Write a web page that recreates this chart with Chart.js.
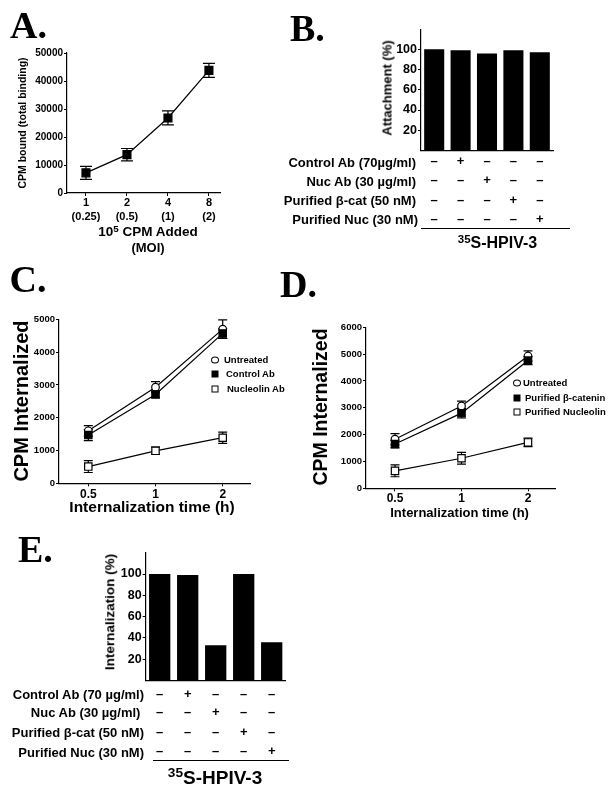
<!DOCTYPE html>
<html>
<head>
<meta charset="utf-8">
<script src="https://cdn.jsdelivr.net/npm/chart.js@4.4.1/dist/chart.umd.min.js"></script>
<style>
body{margin:0;background:#fff;}
#page{position:relative;width:611px;height:794px;overflow:hidden;font-family:"Liberation Sans",Arial,sans-serif;font-weight:bold;color:#000;}
canvas{position:absolute;left:0;top:0;}
.t{position:absolute;white-space:nowrap;line-height:1;transform:translate(-50%,-50%);}
.r{position:absolute;white-space:nowrap;line-height:1;transform:translate(-100%,-50%);}
.l{position:absolute;white-space:nowrap;line-height:1;transform:translate(0,-50%);}
.v{position:absolute;white-space:nowrap;line-height:1;transform:translate(-50%,-50%) rotate(-90deg);}
.letter{position:absolute;font-family:"Liberation Serif","Times New Roman",serif;font-size:38px;line-height:1;}
.rule{position:absolute;border-top:1.3px solid #000;height:0;}
.mk{position:absolute;box-sizing:border-box;transform:translate(-50%,-50%);}
.circ{width:8px;height:7px;border:1.3px solid #000;border-radius:50%;}
.fsq{width:7px;height:7px;background:#000;}
.osq{width:7px;height:7px;border:1.3px solid #000;}
sup{font-size:0.72em;vertical-align:0.45em;line-height:0;}
</style>
</head>
<body>
<div id="page">
  <canvas id="chartA" width="611" height="794"></canvas>
  <canvas id="chartB" width="611" height="794"></canvas>
  <canvas id="chartC" width="611" height="794"></canvas>
  <canvas id="chartD" width="611" height="794"></canvas>
  <canvas id="chartE" width="611" height="794"></canvas>

  <div class="letter" style="left:10px;top:6px;">A.</div>
  <div class="letter" style="left:290px;top:9px;">B.</div>
  <div class="letter" style="left:9.5px;top:260px;">C.</div>
  <div class="letter" style="left:280px;top:265px;">D.</div>
  <div class="letter" style="left:18px;top:530px;">E.</div>

  <!-- A -->
  <div class="v" style="left:21.7px;top:123px;font-size:10.5px;">CPM bound (total binding)</div>
  <div class="t" style="left:148px;top:232px;font-size:13.5px;">10<sup>5</sup> CPM Added</div>
  <div class="t" style="left:148px;top:247px;font-size:13px;">(MOI)</div>

  <!-- B -->
  <div class="v" style="left:386.5px;top:88px;font-size:13px;">Attachment (%)</div>
  <div class="r" style="left:416px;top:161.7px;font-size:13px;">Control Ab (70µg/ml)</div>
  <div class="r" style="left:416px;top:180.7px;font-size:13px;">Nuc Ab (30 µg/ml)</div>
  <div class="r" style="left:416px;top:200px;font-size:13px;">Purified β-cat (50 nM)</div>
  <div class="r" style="left:418px;top:219px;font-size:13px;">Purified Nuc (30 nM)</div>
  <div class="rule" style="left:421px;top:228px;width:149px;"></div>
  <div class="t" style="left:497.5px;top:243px;font-size:16px;"><sup>35</sup>S-HPIV-3</div>

  <!-- C -->
  <div class="v" style="left:20.7px;top:401px;font-size:20px;">CPM Internalized</div>
  <div class="t" style="left:152px;top:507px;font-size:15.5px;">Internalization time (h)</div>
  <div class="mk circ" style="left:215px;top:360px;"></div>
  <div class="l" style="left:224px;top:360px;font-size:9.5px;">Untreated</div>
  <div class="mk fsq" style="left:215px;top:374.3px;"></div>
  <div class="l" style="left:226px;top:374.3px;font-size:9.5px;">Control Ab</div>
  <div class="mk osq" style="left:215px;top:389px;"></div>
  <div class="l" style="left:227px;top:389px;font-size:9.5px;">Nucleolin Ab</div>

  <!-- D -->
  <div class="v" style="left:320.7px;top:406.7px;font-size:19.5px;">CPM Internalized</div>
  <div class="t" style="left:459.6px;top:512px;font-size:13px;">Internalization time (h)</div>
  <div class="mk circ" style="left:516.7px;top:383.3px;"></div>
  <div class="l" style="left:523px;top:383.3px;font-size:9.5px;">Untreated</div>
  <div class="mk fsq" style="left:516.7px;top:398.3px;"></div>
  <div class="l" style="left:525px;top:398.3px;font-size:9.5px;">Purified β-catenin</div>
  <div class="mk osq" style="left:516.7px;top:412.3px;"></div>
  <div class="l" style="left:525px;top:412.3px;font-size:9.5px;">Purified Nucleolin</div>

  <!-- E -->
  <div class="v" style="left:110px;top:612px;font-size:13.5px;">Internalization (%)</div>
  <div class="r" style="left:144px;top:694px;font-size:13px;">Control Ab (70 µg/ml)</div>
  <div class="r" style="left:144px;top:712.3px;font-size:13px;">Nuc Ab (30 µg/ml)&nbsp;</div>
  <div class="r" style="left:144px;top:732.3px;font-size:13px;">Purified β-cat (50 nM)</div>
  <div class="r" style="left:144px;top:751.7px;font-size:13px;">Purified Nuc (30 nM)</div>
  <div class="rule" style="left:152.7px;top:760px;width:136.6px;"></div>
  <div class="t" style="left:215px;top:777px;font-size:19px;"><sup>35</sup>S-HPIV-3</div>
</div>

<script>
// A: total binding vs input
var aCats = [["1", "(0.25)"], ["2", "(0.5)"], ["4", "(1)"], ["8", "(2)"]];
var aBound = [7200, 13700, 26800, 43800];
var aBoundErr = [2300, 2200, 2500, 2500];

// B / E: treatments (+/- table)
var treatRows = [
    ["–", "+", "–", "–", "–"],
    ["–", "–", "+", "–", "–"],
    ["–", "–", "–", "+", "–"],
    ["–", "–", "–", "–", "+"]
];
var bAttachment = [100, 99, 96, 99, 97];
var eInternalization = [100, 99, 33, 100, 36];
var pctTicks = [20, 40, 60, 80, 100];

// C / D: internalization over time
var timeCats = ["0.5", "1", "2"];
var cUntreated = [1600, 2930, 4700];
var cUntreatedErr = [160, 170, 280];
var cControlAb = [1470, 2710, 4570];
var cControlAbErr = [170, 100, 150];
var cNucleolinAb = [510, 990, 1390];
var cNucleolinAbErr = [180, 110, 170];

var dUntreated = [1830, 3070, 4930];
var dUntreatedErr = [210, 180, 190];
var dBcatenin = [1650, 2800, 4760];
var dBcateninErr = [140, 180, 150];
var dNucleolin = [650, 1120, 1710];
var dNucleolinErr = [220, 220, 160];

Chart.defaults.font.family = '"Liberation Sans", Arial, sans-serif';
Chart.defaults.font.weight = 'bold';
Chart.defaults.color = '#000';

var W = 611, H = 794;

// place the plot area: l,t,r,b of chart area, yw = y axis width, xh = x axis height
function pad(l, t, r, b, yw, xh) {
    return { left: l - yw, top: t, right: W - r, bottom: H - b - xh };
}

function errorBars(cap) {
    return {
        id: 'errorBars',
        beforeDatasetsDraw: function (chart) {
            var ctx = chart.ctx, xs = chart.scales.x, ys = chart.scales.y;
            ctx.save();
            ctx.strokeStyle = '#000';
            ctx.lineWidth = 1.2;
            chart.data.datasets.forEach(function (ds) {
                ds.data.forEach(function (p, i) {
                    var x = xs.getPixelForValue(p.x);
                    var y1 = ys.getPixelForValue(p.y + ds.err[i]);
                    var y2 = ys.getPixelForValue(p.y - ds.err[i]);
                    ctx.beginPath();
                    ctx.moveTo(x, y1); ctx.lineTo(x, y2);
                    ctx.moveTo(x - cap, y1); ctx.lineTo(x + cap, y1);
                    ctx.moveTo(x - cap, y2); ctx.lineTo(x + cap, y2);
                    ctx.stroke();
                });
            });
            ctx.restore();
        }
    };
}

function tableMarks(rows, rowY, size) {
    return {
        id: 'tableMarks',
        afterDraw: function (chart) {
            var ctx = chart.ctx, xs = chart.scales.x;
            ctx.save();
            ctx.fillStyle = '#000';
            ctx.font = 'bold ' + size + 'px "Liberation Sans", Arial, sans-serif';
            ctx.textAlign = 'center';
            ctx.textBaseline = 'middle';
            rows.forEach(function (row, r) {
                row.forEach(function (s, i) {
                    ctx.fillText(s, xs.getPixelForValue(i), rowY[r]);
                });
            });
            ctx.restore();
        }
    };
}

function pts(vals) {
    return vals.map(function (v, i) { return { x: i + 1, y: v }; });
}

function series(vals, errs, style, fill, radius) {
    return {
        data: pts(vals),
        err: errs,
        borderColor: '#000',
        borderWidth: 1.2,
        pointStyle: style,
        pointRadius: radius,
        pointBackgroundColor: fill,
        pointBorderColor: '#000',
        pointBorderWidth: 1.2,
        tension: 0
    };
}

var axisLine = { display: true, color: '#000', width: 1.2 };

function lineChart(id, datasets, area, yMax, yStep, yFont, xLabels, xMin, xMax, xFont, xPad, cap) {
    return new Chart(document.getElementById(id), {
        type: 'line',
        data: { datasets: datasets },
        options: {
            responsive: false,
            animation: false,
            events: [],
            layout: { padding: area },
            plugins: { legend: { display: false }, tooltip: { enabled: false } },
            scales: {
                x: {
                    type: 'linear', min: xMin, max: xMax,
                    afterBuildTicks: function (s) {
                        s.ticks = xLabels.map(function (l, i) { return { value: i + 1 }; });
                    },
                    afterFit: function (s) { s.height = 40; },
                    ticks: {
                        font: xFont, padding: xPad, maxRotation: 0, autoSkip: false,
                        callback: function (v, i) { return xLabels[i]; }
                    },
                    grid: { display: true, drawOnChartArea: false, drawTicks: true, tickLength: 3, color: '#000' },
                    border: axisLine
                },
                y: {
                    min: 0, max: yMax,
                    afterFit: function (s) { s.width = 40; },
                    ticks: {
                        stepSize: yStep, font: yFont, padding: 1,
                        callback: function (v) { return String(v); }
                    },
                    grid: { display: true, drawOnChartArea: false, drawTicks: true, tickLength: 3, color: '#000' },
                    border: axisLine
                }
            }
        },
        plugins: [errorBars(cap)]
    });
}

function barChart(id, values, area, rowY, markSize) {
    return new Chart(document.getElementById(id), {
        type: 'bar',
        data: {
            labels: values.map(function (v, i) { return String(i + 1); }),
            datasets: [{
                data: values,
                backgroundColor: '#000',
                barPercentage: 0.76,
                categoryPercentage: 1
            }]
        },
        options: {
            responsive: false,
            animation: false,
            events: [],
            layout: { padding: area },
            plugins: { legend: { display: false }, tooltip: { enabled: false } },
            scales: {
                x: {
                    afterFit: function (s) { s.height = 2; },
                    ticks: { display: false },
                    grid: { display: false },
                    border: axisLine
                },
                y: {
                    min: 0, max: 120,
                    afterFit: function (s) { s.width = 40; },
                    afterBuildTicks: function (s) {
                        s.ticks = pctTicks.map(function (v) { return { value: v }; });
                    },
                    ticks: {
                        font: { size: 12.5 }, padding: 1,
                        callback: function (v) { return String(v); }
                    },
                    grid: { display: true, drawOnChartArea: false, drawTicks: true, tickLength: 3, color: '#000' },
                    border: axisLine
                }
            }
        },
        plugins: [tableMarks(treatRows, rowY, markSize)]
    });
}

// A
lineChart('chartA',
    [series(aBound, aBoundErr, 'rect', '#000', 5.6)],
    pad(67, 53, 220, 193, 40, 40),
    50000, 10000, { size: 10 },
    aCats, 0.537, 4.27, { size: 11, lineHeight: 1.3 }, 0, 6);

// B
barChart('chartB', bAttachment, pad(421, 29.1, 553, 150.5, 40, 2), [161.7, 180.7, 200, 219], 13);

// C
lineChart('chartC',
    [series(cNucleolinAb, cNucleolinAbErr, 'rect', '#fff', 5.2),
     series(cControlAb, cControlAbErr, 'rect', '#000', 5.2),
     series(cUntreated, cUntreatedErr, 'circle', '#fff', 3.8)],
    pad(59, 319.3, 250, 483.3, 40, 40),
    5000, 1000, { size: 9.5 },
    timeCats, 0.564, 3.406, { size: 12 }, 1, 4.5);

// D
lineChart('chartD',
    [series(dNucleolin, dNucleolinErr, 'rect', '#fff', 5.2),
     series(dBcatenin, dBcateninErr, 'rect', '#000', 5.2),
     series(dUntreated, dUntreatedErr, 'circle', '#fff', 3.8)],
    pad(366, 327.3, 555, 488.3, 40, 40),
    6000, 1000, { size: 9.5 },
    timeCats, 0.564, 3.406, { size: 12 }, 0, 4.5);

// E
barChart('chartE', eInternalization, pad(145.7, 552.7, 285.7, 680.5, 40, 2), [694, 712.3, 732.3, 751.7], 13);
</script>
</body>
</html>
